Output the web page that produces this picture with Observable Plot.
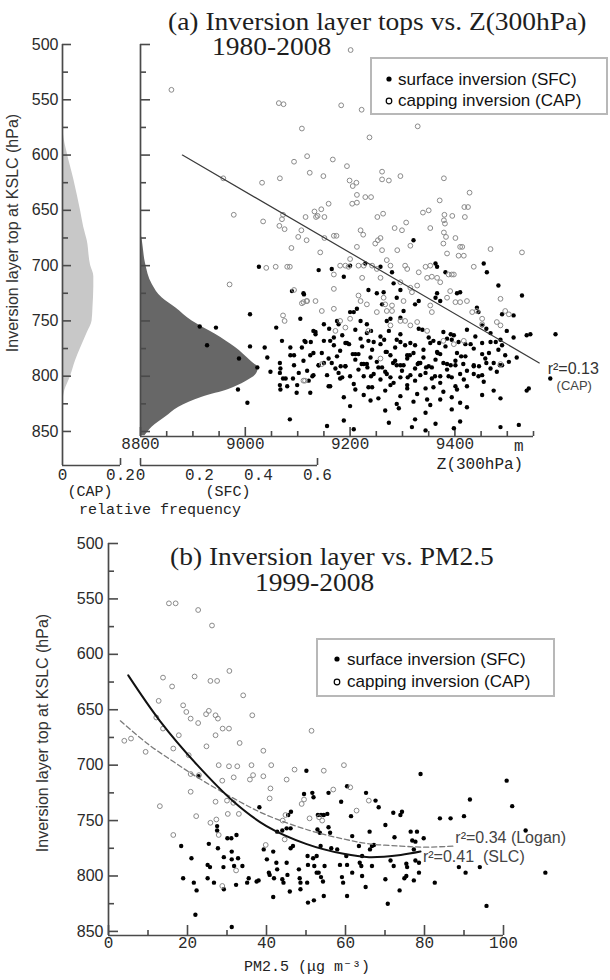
<!DOCTYPE html>
<html><head><meta charset="utf-8">
<script src="https://cdn.jsdelivr.net/npm/d3@7"></script>
<script src="https://cdn.jsdelivr.net/npm/@observablehq/plot@0.6"></script>
<style>
html,body{margin:0;padding:0;background:#fff;overflow:hidden;}
#wrap{position:relative;width:610px;height:980px;background:#fff;}
#plots{position:absolute;left:0;top:0;width:610px;height:980px;}
.t{position:absolute;white-space:nowrap;line-height:1;}
.serif{font-family:"Liberation Serif","DejaVu Serif",serif;color:#1e1e1e;font-size:25px;transform-origin:0 50%;transform:scaleX(1.1);}
.mono{font-family:"Liberation Mono","DejaVu Sans Mono",monospace;color:#222;font-size:15px;transform:translate(-50%,-50%);}
.ylab{font-family:"Liberation Sans",Arial,sans-serif;color:#333;font-size:16px;transform:translate(-50%,-50%) rotate(-90deg);}
.legend{position:absolute;box-sizing:border-box;border:2px solid #b8b8b8;background:#fff;}
.legend svg{position:absolute;left:0;top:0;overflow:visible}
</style></head><body><div id="wrap">
<div id="plots"></div>
<div class="t serif" style="left:168px;top:9px">(a) Inversion layer tops vs. Z(300hPa)</div>
<div class="t serif" style="left:212px;top:34px">1980-2008</div>
<div class="t serif" style="left:170px;top:544px">(b) Inversion layer vs. PM2.5</div>
<div class="t serif" style="left:255px;top:570px">1999-2008</div>
<div class="t ylab" style="left:13px;top:233px">Inversion layer top at KSLC (hPa)</div>
<div class="t ylab" style="left:43px;top:733px">Inversion layer top at KSLC (hPa)</div>
<div class="t mono" style="left:90px;top:492px">(CAP)</div>
<div class="t mono" style="left:228px;top:492px">(SFC)</div>
<div class="t mono" style="left:160px;top:510px">relative frequency</div>
<div class="t mono" style="left:480px;top:465px;font-size:16px">Z(300hPa)</div>
<div class="t mono" style="left:307px;top:967px">PM2.5 (μg m⁻³)</div>
<div class="legend" style="left:370px;top:57px;width:238px;height:58px">
<svg width="238" height="58" font-family="Liberation Sans, Arial, sans-serif" font-size="17" fill="#111">
<circle cx="17" cy="20" r="2.6" fill="#000"/><text x="26" y="26">surface inversion (SFC)</text>
<circle cx="17" cy="42" r="2.8" fill="none" stroke="#000" stroke-width="1.2"/><text x="26" y="47">capping inversion (CAP)</text>
</svg></div>
<div class="legend" style="left:316px;top:638px;width:239px;height:59px">
<svg width="239" height="59" font-family="Liberation Sans, Arial, sans-serif" font-size="17" fill="#111">
<circle cx="19" cy="19" r="2.6" fill="#000"/><text x="29" y="25">surface inversion (SFC)</text>
<circle cx="19" cy="42" r="2.8" fill="none" stroke="#000" stroke-width="1.2"/><text x="29" y="47">capping inversion (CAP)</text>
</svg></div>
</div>
<script>
// ---------- DATA ----------
const yMajor = [500,550,600,650,700,750,800,850];
const yMinor = [525,575,625,675,725,775,825];
const zMajor = [8800,9000,9200,9400];
const zMinor = [8850,8900,8950,9050,9100,9150,9250,9300,9350,9450,9500,9550];
const capTicks = [0,0.2];
const sfcTicks = [0,0.2,0.4,0.6];
const pmMajor = [0,20,40,60,80,100];
const pmMinor = [10,30,50,70,90];

// relative frequency profiles (pressure hPa, frequency)
const capP = [560,580,598,622,650,665,677,700,710,719,738,750,761,775,786,800,813,828];
const capF = [0,0.003,0.016,0.039,0.062,0.073,0.085,0.097,0.108,0.108,0.105,0.102,0.085,0.062,0.045,0.028,0.008,0];
const sfcP = [668,677,698,717,729,738,750,762,774,786,793,799,805,812,819,828,837,846,854];
const sfcF = [0,0.006,0.017,0.040,0.073,0.119,0.175,0.254,0.322,0.373,0.399,0.390,0.356,0.299,0.209,0.130,0.085,0.040,0.015];

// panel (a): [Z300 (m), inversion top (hPa)]
const aSFC = [
[9200,700],[9188,710],[9140,704],[9229,698],[9258,701],[9280,706],[9321,677],[9363,698],[9366,701],[9382,706],[9461,706],[9455,698],[9483,718],[9528,727],[9111,725],[9165,703],[9235,722],[9251,725],[9264,724],[9283,716],[9296,722],[9289,729],[9261,735],[9324,735],[9331,732],[9213,739],[9200,742],[9207,742],[9175,750],[9178,753],[9220,750],[9232,753],[9270,750],[9277,748],[9296,747],[9302,741],[9363,729],[9366,725],[9372,732],[9404,725],[9410,724],[9442,738],[9445,742],[9452,754],[9490,744],[9512,745],[9537,763],[9592,762],[9130,759],[9134,762],[9150,753],[9105,748],[9169,765],[9162,768],[9582,802],[9537,813],
[9026,701],[8913,755],[8944,756],[8927,772],[9009,744],[9059,756],[8988,784],[9023,792],[9009,773],[9037,774],[9042,783],[9048,796],[9070,768],[8986,812],[9004,824],[9066,788],[9067,793],[9066,797],[9072,802],[9077,802],[9066,808],[9067,812],[9080,809],[9086,781],[9093,781],[9093,790],[9102,797],[9091,802],[9099,808],[9086,774],[9098,815],[9085,839],[9089,723],[9112,726],[9113,768],
[9134,760],[9150,768],[9185,763],[9191,770],[9210,758],[9220,766],[9232,761],[9245,769],[9258,764],[9274,759],[9289,767],[9296,762],[9315,770],[9331,757],[9350,765],[9359,768],[9378,760],[9385,766],[9398,763],[9407,769],[9423,758],[9439,764],[9452,770],[9468,761],[9487,767],[9499,759],[9512,765],[9544,762],
[9108,774],[9115,769],[9146,779],[9169,772],[9181,777],[9194,770],[9210,780],[9223,773],[9235,768],[9242,776],[9258,771],[9270,778],[9286,774],[9296,769],[9309,781],[9324,772],[9340,776],[9353,770],[9366,778],[9382,773],[9394,767],[9404,779],[9420,771],[9436,775],[9452,780],[9468,769],[9483,776],[9490,772],
[9111,786],[9124,781],[9140,790],[9159,784],[9165,788],[9175,782],[9191,791],[9210,785],[9216,780],[9226,789],[9239,783],[9251,787],[9261,792],[9277,781],[9286,786],[9296,790],[9309,784],[9321,779],[9331,788],[9340,783],[9350,791],[9363,785],[9372,780],[9385,789],[9401,786],[9420,782],[9436,790],[9458,784],[9474,788],[9496,781],[9503,787],[9518,783],
[9118,795],[9140,790],[9156,799],[9172,793],[9178,797],[9191,791],[9200,800],[9216,794],[9232,789],[9245,798],[9254,792],[9267,796],[9277,801],[9289,790],[9299,795],[9315,799],[9324,793],[9334,788],[9344,797],[9356,792],[9372,800],[9385,794],[9401,790],[9410,798],[9423,795],[9436,791],[9452,799],[9468,793],[9480,796],[9490,790],
[9121,804],[9130,799],[9162,809],[9181,802],[9207,807],[9226,800],[9235,810],[9258,803],[9270,798],[9283,806],[9296,801],[9309,808],[9324,804],[9334,799],[9344,811],[9356,802],[9372,806],[9388,800],[9401,809],[9417,803],[9436,798],[9455,805],
[9124,815],[9159,809],[9188,819],[9210,812],[9226,817],[9242,810],[9254,820],[9267,813],[9277,808],[9296,818],[9309,811],[9328,816],[9347,821],[9359,810],[9378,814],[9394,819],[9404,812],[9423,809],[9452,817],[9474,813],[9487,820],[9541,811],
[9200,827],[9239,822],[9267,831],[9289,825],[9293,829],[9321,823],[9344,833],[9353,826],[9372,821],[9394,830],[9410,824],[9423,828],
[9156,845],[9188,840],[9207,848],[9274,842],[9318,846],[9324,839],[9344,849],[9363,843],[9398,847],[9410,841],[9487,846],[9522,844],
[9125,769],[9160,757],[9198,771],[9240,759],[9265,767],[9305,772],[9338,758],[9370,770],[9392,762],[9430,771],[9460,757],[9478,769],
[9130,779],[9182,791],[9205,780],[9233,792],[9268,778],[9302,790],[9314,781],[9345,792],[9367,779],[9392,790],[9412,782],[9446,791],[9465,779],[9486,790],
[9128,800],[9150,788],[9185,801],[9222,789],[9240,800],[9282,788],[9310,801],[9329,789],[9362,800],[9378,788],[9394,801],[9416,789],[9445,800],[9460,788]
];
const aCAP = [
[8859,541],[9064,553],[9073,554],[9108,576],[9118,601],[9093,606],[9123,616],[8958,621],[9032,625],[9066,621],[8978,654],[9034,660],[9072,654],[9070,658],[9065,664],[9075,667],[9115,656],[9107,668],[9101,674],[9117,677],[9088,684],
[9201,505],[9183,555],[9222,559],[9329,574],[9237,584],[9167,604],[9149,619],[9194,610],[9199,623],[9212,625],[9205,628],[9261,615],[9261,622],[9274,623],[9296,619],[9379,621],[9428,634],[9213,636],[9229,638],[9240,638],[9204,644],[9213,643],[9159,644],[9132,651],[9138,655],[9145,649],[9151,656],[9135,656],[9252,656],[9263,653],[9339,652],[9350,650],[9371,641],[9418,647],[9425,647],[9380,654],[9379,659],[9395,655],[9419,656],[9307,661],[9299,668],[9285,666],[9353,666],[9381,662],[9379,670],[9383,674],[9401,675],[9414,683],[9220,668],[9225,672],[9253,677],[9258,675],[9169,673],[9174,673],[9151,675],[9290,686],
[8970,717],[9040,702],[9058,701],[9080,701],[9085,701],[9093,722],[9117,732],[9108,734],[9072,745],[9075,750],[9114,804],
[9143,688],[9213,683],[9248,680],[9261,686],[9315,682],[9378,680],[9385,689],[9410,683],[9417,691],[9407,691],[9468,685],[9528,688],[9200,694],[9169,708],[9181,700],[9191,700],[9197,701],[9216,700],[9226,700],[9242,700],[9251,703],[9270,695],[9277,700],[9305,700],[9309,703],[9331,706],[9344,701],[9353,700],[9388,708],[9394,708],[9398,708],[9436,701],[9169,721],[9223,711],[9258,711],[9296,715],[9328,718],[9347,711],[9356,710],[9366,711],[9372,715],[9385,729],[9391,723],[9401,733],[9410,733],[9423,732],[9433,742],[9442,741],[9452,748],[9452,753],[9487,730],[9496,741],[9503,744],[9480,751],[9487,754],[9315,720],[9318,724],[9302,732],[9264,729],[9267,735],[9280,736],[9216,727],[9220,732],[9232,735],[9251,742],[9270,741],[9280,741],[9296,750],[9305,750],[9315,754],[9353,736],[9356,742],[9118,732],[9134,732],[9111,733],[9146,741],[9169,739],[9181,750],[9191,756],[9200,748],[9172,759],[9235,759],[9277,754],[9328,751],[9347,759],[9258,784],[9487,789],[9111,804],[9146,789],[9417,768],[9378,768],[9398,771]
];
const regA = [[8880,600],[9561,788]];

// panel (b): [PM2.5 (ug m-3), inversion top (hPa)]
const bSFC = [
[22.8,710],[50.1,705],[38.2,738],[46.2,742],[45.5,745],[49.5,726],[51.6,725],[51.9,729],[53,745],[53.8,745],[54.5,745],[55.4,744],[55.7,725],[60.4,719],[58.9,733],[61.4,746],[65.2,725],[67.6,732],[68.4,738],[72.1,743],[70.1,754],[52.9,758],[53.5,761],[55.7,756],[56.1,761],[61.7,764],[66.1,760],[67.2,772],[72.4,765],[42.7,760],[44,759],[45.1,757],[27.5,755],[30.1,766],[31.1,766],[27.5,759],[32.4,763],[25.4,771],[27.7,775],[18.4,773],[46.1,757],
[21,784],[18.9,802],[21.6,806],[22.3,813],[22,835],[25.1,790],[25.7,792],[25.1,802],[26.7,806],[29.1,792],[29.2,783],[31.2,778],[31.2,785],[32.8,784],[33.9,791],[31.8,791],[32.3,808],[29.2,812],[31.2,846],[35.1,806],[35.5,802],[37.5,805],[38,804],[40.1,785],[39.3,776],[41.7,778],[40.6,797],[40.8,799],[41.7,819],[41.9,802],[42.5,788],[42.7,794],[44,803],[44.3,806],[45.1,788],[45.3,799],[45.9,814],[48.2,794],[48.4,802],[48.6,806],[48.6,812],[50.5,824],[50.4,782],[50.5,790],[50.3,806],[46.1,775],[46.7,773],
[79,708],[100.8,714],[102.2,737],[91.5,731],[83.9,748],[86.6,748],[90,746],[105.6,759],[94,792],[90.4,797],[88.7,792],[82.6,806],[95.7,827],[110.6,797],[70.7,825],[73.7,813],[73.9,745],[74.3,742],[76.5,760],[78.1,760],[76.9,768],[77.7,769],[79.8,766],[77.3,776],[77.7,786],[78.6,788],[78.6,797],[77.3,804],[75.4,789],[75.6,792],[71.4,786],[72.2,791],[70.1,803],[74.9,802],[75.4,800],[66.2,776],[66.7,773],[63.4,773],[64.2,782],[66.7,791],[63.6,788],[64,791],[64.2,800],[61.7,797],[60.2,782],[60.4,790],[58.6,790],[59.1,801],[59.4,806],[60.4,818],[57.9,776],[56.4,775],[54.7,791],[53.7,773],[51.8,784],[52.7,782],[52.1,791],[52.7,797],[53.2,797],[53.8,801],[54.3,805],[54.5,818],[52,822],[65.1,810]
];
const bCAP = [
[15.3,554],[17.0,554],[22.7,560],[26.2,574],[13.8,621],[21.8,620],[25.8,624],[27.5,624],[30.6,615],[12.7,642],[16.1,629],[18.9,646],[19.7,652],[20.8,658],[22.7,662],[24.7,654],[25.4,651],[27.1,655],[27.7,658],[27.1,673],[28.9,667],[30.5,667],[34.1,637],[36.4,655],[24.8,683],[33.2,680],[17.8,673],[16.4,685],[12.1,657],[13.8,667],[4.0,678],[5.7,676],[9.4,688],[20.3,691],[20.8,708],[22.9,709],[20.8,724],[13.0,737],[22.2,746],[16.4,763],[25.8,752],[27.3,749],[27.9,700],[30.5,701],[28.8,714],[27.1,733],[30.0,732],[31.6,734],[27.9,763],[30.2,744],[33.0,744],[31.7,711],[32.6,701],[35.8,713],[36.2,700],[36.6,709],[39.2,687],[39.2,710],[41.0,721],[40.8,730],[41.2,700],[45.1,713],[47.1,704],[48.9,735],[49.5,731],[44.1,750],[44.8,745],[44.6,767],[50.9,748],[51.4,669],[53.3,747],[54.1,750],[54.5,705],[56.9,722],[59.6,700],[61.2,720],[62.8,741],[65.9,732],[39.8,772],[28.8,809],[32.3,795]
];
const slcX = [5,13,22.5,31.7,40,50,59.5,66,74,79];
const slcP = [619,660,700,733,755,771,780,783,781,778];
const loganX = [3,10,16.5,22.5,31.7,40,51,60,66,74,80,87.5];
const loganP = [660,681,697,711,730,745,759,767,771,773,774,773];

// ---------- DRAWING ----------
const plots = document.getElementById("plots");
const W = 610, H = 980;
const AX = "#4a4a4a";
const SANS = "Liberation Sans, Arial, sans-serif";
const MONO = "Liberation Mono, monospace";
function layer(o) {
  const svg = Plot.plot(Object.assign({
    width: W, height: H,
    style: {position: "absolute", left: "0px", top: "0px", background: "transparent", overflow: "visible"}
  }, o));
  plots.appendChild(svg);
}
// inward-pointing ticks: each tick is inset into the frame by its own length
const tickAxisY = (ticks, size) => Plot.axisY({ticks, tickSize: size, insetLeft: size, tickFormat: () => "", color: AX, strokeWidth: 1.6, label: null});
const tickAxisX = (ticks, size) => Plot.axisX({ticks, tickSize: size, insetBottom: size, tickFormat: () => "", color: AX, strokeWidth: 1.6, label: null});
const labelAxisY = (ticks, pad) => Plot.axisY({ticks, tickSize: 0, tickPadding: pad, tickFormat: d => String(d), fontSize: 16, fontFamily: SANS, color: "#2a2a2a", label: null});
const labelAxisX = (ticks, pad) => Plot.axisX({ticks, tickSize: 0, tickPadding: pad, tickFormat: d => String(d), fontSize: 16, fontFamily: MONO, color: "#2a2a2a", label: null});

const capDens = capP.map((p, i) => ({p, f: capF[i]}));
const sfcDens = sfcP.map((p, i) => ({p, f: sfcF[i]}));
const slc = slcX.map((x, i) => ({x, p: slcP[i]}));
const logan = loganX.map((x, i) => ({x, p: loganP[i]}));
const px = d => d[0], py = d => d[1];

// (a) CAP frequency profile
layer({
  marginLeft: 62, marginRight: W - 120, marginTop: 44, marginBottom: H - 465,
  x: {domain: [0, 0.2], axis: null, label: null},
  y: {domain: [500, 880.8], reverse: true, axis: null, label: null},
  marks: [
    Plot.areaX(capDens, {y: "p", x: "f", fill: "#c8c8c8", curve: "monotone-y"}),
    Plot.ruleX([0], {y1: 500, y2: 880.8, stroke: AX, strokeWidth: 1.7}),
    Plot.ruleY([880.8], {x1: 0, x2: 0.2, stroke: AX, strokeWidth: 1.7}),
    tickAxisY(yMajor, 9), tickAxisY(yMinor, 6), labelAxisY(yMajor, 4),
    tickAxisX([0.2], 7), labelAxisX(capTicks, 3)
  ]
});
// (a) SFC frequency profile
layer({
  marginLeft: 140, marginRight: W - 317, marginTop: 44, marginBottom: H - 465,
  x: {domain: [0, 0.6], axis: null, label: null},
  y: {domain: [500, 880.8], reverse: true, axis: null, label: null},
  marks: [
    Plot.areaX(sfcDens, {y: "p", x: "f", fill: "#676767", curve: "monotone-y"}),
    Plot.ruleY([880.8], {x1: 0, x2: 0.6, stroke: AX, strokeWidth: 1.7}),
    tickAxisX([0, 0.6], 7), labelAxisX(sfcTicks, 3)
  ]
});
// (a) scatter vs Z(300hPa)
layer({
  marginLeft: 140, marginRight: W - 533, marginTop: 44, marginBottom: H - 436,
  x: {domain: [8800, 9550], axis: null, label: null},
  y: {domain: [500, 854.5], reverse: true, axis: null, label: null},
  marks: [
    Plot.ruleX([8800], {y1: 500, y2: 854.5, stroke: AX, strokeWidth: 1.7}),
    Plot.ruleY([854.5], {x1: 8800, x2: 9550, stroke: AX, strokeWidth: 1.7}),
    tickAxisY(yMajor, 10), tickAxisY(yMinor, 6),
    tickAxisX(zMajor, 9), tickAxisX(zMinor, 5),
    labelAxisX(zMajor, 1),
    Plot.text(["m"], {x: 9522, y: 854.5, dy: 9, text: d => d, fontSize: 16, fontFamily: MONO, fill: "#2a2a2a"}),
    Plot.dot(aSFC, {x: px, y: py, r: 2.2, fill: "#000"}),
    Plot.dot(aCAP, {x: px, y: py, r: 2.4, stroke: "#8a8a8a", strokeWidth: 1}),
    Plot.line(regA, {x: px, y: py, stroke: "#3a3a3a", strokeWidth: 1.2}),
    Plot.text(["r²=0.13"], {x: 9577, y: 793, text: d => d, textAnchor: "start", fontSize: 16, fontFamily: SANS, fill: "#333"}),
    Plot.text(["(CAP)"], {x: 9594, y: 809, text: d => d, textAnchor: "start", fontSize: 13, fontFamily: SANS, fill: "#444"})
  ]
});
// (b) scatter vs PM2.5
layer({
  marginLeft: 108, marginRight: W - 503, marginTop: 543, marginBottom: H - 935,
  x: {domain: [0, 100], axis: null, label: null},
  y: {domain: [500, 853.7], reverse: true, axis: null, label: null},
  marks: [
    Plot.ruleX([0], {y1: 500, y2: 853.7, stroke: AX, strokeWidth: 1.7}),
    Plot.ruleY([853.7], {x1: 0, x2: 100, stroke: AX, strokeWidth: 1.7}),
    tickAxisY(yMajor, 10), tickAxisY(yMinor, 6), labelAxisY(yMajor, 5),
    tickAxisX(pmMajor, 10), tickAxisX(pmMinor, 5), labelAxisX(pmMajor, 1),
    Plot.dot(bSFC, {x: px, y: py, r: 2.2, fill: "#000"}),
    Plot.dot(bCAP, {x: px, y: py, r: 2.4, stroke: "#8a8a8a", strokeWidth: 1}),
    Plot.line(logan, {x: "x", y: "p", stroke: "#7a7a7a", strokeWidth: 1.3, strokeDasharray: "5,3", curve: "catmull-rom"}),
    Plot.line(slc, {x: "x", y: "p", stroke: "#111", strokeWidth: 2, curve: "catmull-rom"}),
    Plot.text(["r²=0.34 (Logan)"], {x: 87.8, y: 766, text: d => d, textAnchor: "start", fontSize: 16, fontFamily: SANS, fill: "#444"}),
    Plot.text(["r²=0.41  (SLC)"], {x: 79.6, y: 783, text: d => d, textAnchor: "start", fontSize: 16, fontFamily: SANS, fill: "#444"})
  ]
});
</script></body></html>
